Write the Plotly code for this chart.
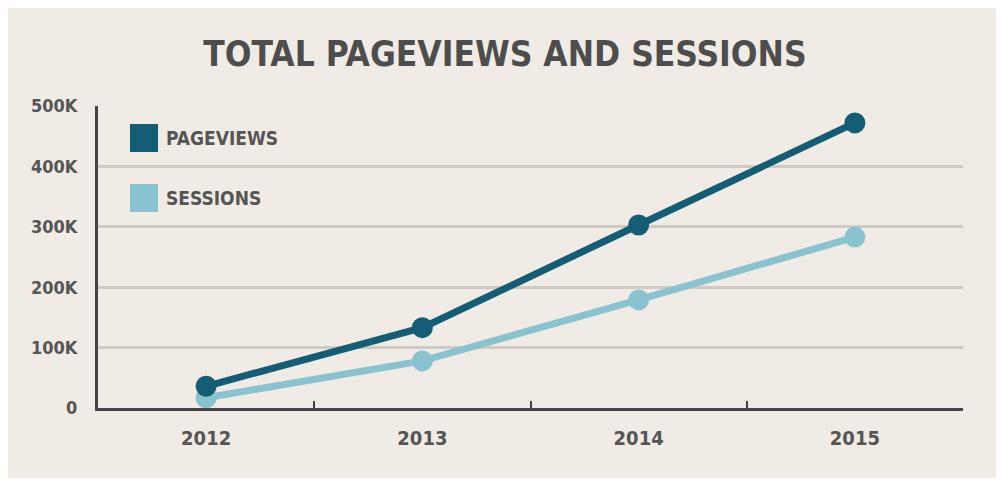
import plotly.graph_objects as go

years = ["2012", "2013", "2014", "2015"]
pageviews = [36000, 133000, 303000, 472000]
sessions = [17000, 78000, 179000, 283000]
y_ticks = [0, 100000, 200000, 300000, 400000, 500000]
y_labels = ["0", "100K", "200K", "300K", "400K", "500K"]
series_names = ["PAGEVIEWS", "SESSIONS"]
colors = ["#135d75", "#8ac3d0"]

FONT = "DejaVu Sans Condensed, DejaVu Sans, sans-serif"
OFF = 8  # default page body margin
W, H = 1004 - OFF, 478 - OFF
L, T = 98 - OFF, 106 - OFF
R = W - (963 - OFF)
B = H - (408 - OFF)

fig = go.Figure()
for name, vals, c in [(series_names[1], sessions, colors[1]), (series_names[0], pageviews, colors[0])]:
    fig.add_trace(go.Scatter(x=years, y=vals, mode="lines+markers", name=name,
                             line=dict(color=c, width=7),
                             marker=dict(color=c, size=21), showlegend=False))

pw = W - L - R
ph = H - T - B
def px(x):
    return (x - OFF - L) / pw
def py(y):
    return (H - B - (y - OFF)) / ph

shapes = [
    dict(type="rect", xref="paper", yref="paper", x0=px(8), x1=px(1000), y0=py(479), y1=py(8),
         fillcolor="#f0ebe4", line=dict(width=0), layer="below"),
]
annotations = []
for i, (name, c) in enumerate(zip(series_names, colors)):
    yc = 138 + i * 60
    shapes.append(dict(type="rect", xref="paper", yref="paper",
                       x0=px(130), x1=px(158), y0=py(yc + 14), y1=py(yc - 14),
                       fillcolor=c, line=dict(width=0)))
    annotations.append(dict(xref="paper", yref="paper", x=px(164), y=py(yc), text=f"<b>{name}</b>",
                            showarrow=False, xanchor="left", yanchor="middle",
                            font=dict(family=FONT, size=19, color="#555555")))

fig.update_layout(
    width=W, height=H,
    margin=dict(l=L, r=R, t=T, b=B),
    paper_bgcolor="white", plot_bgcolor="rgba(0,0,0,0)",
    title=dict(text="<b>TOTAL PAGEVIEWS AND SESSIONS</b>", x=px(505), xref="paper", xanchor="center",
               y=1 - (54 - OFF) / H, yanchor="middle",
               font=dict(family=FONT, size=35, color="#4d4d4d")),
    shapes=shapes, annotations=annotations,
    xaxis=dict(type="category", range=[-0.5, 3.5], tickson="boundaries", ticks="inside",
               ticklen=7, tickwidth=2, tickcolor="#444444", showgrid=False,
               showline=True, linecolor="#444444", linewidth=3,
               tickvals=years, ticktext=[f"<b>{y}</b>" for y in years],
               ticklabelstandoff=10,
               tickfont=dict(family=FONT, size=20, color="#555555")),
    yaxis=dict(range=[0, 500000], tickvals=y_ticks, ticktext=[f"<b>{t}</b>" for t in y_labels],
               showgrid=True, gridcolor="#cfcac3", gridwidth=3, zeroline=False,
               showline=True, linecolor="#444444", linewidth=3, ticks="",
               tickfont=dict(family=FONT, size=18, color="#555555"), ticklabelstandoff=14),
)
fig.write_html("out.html")
